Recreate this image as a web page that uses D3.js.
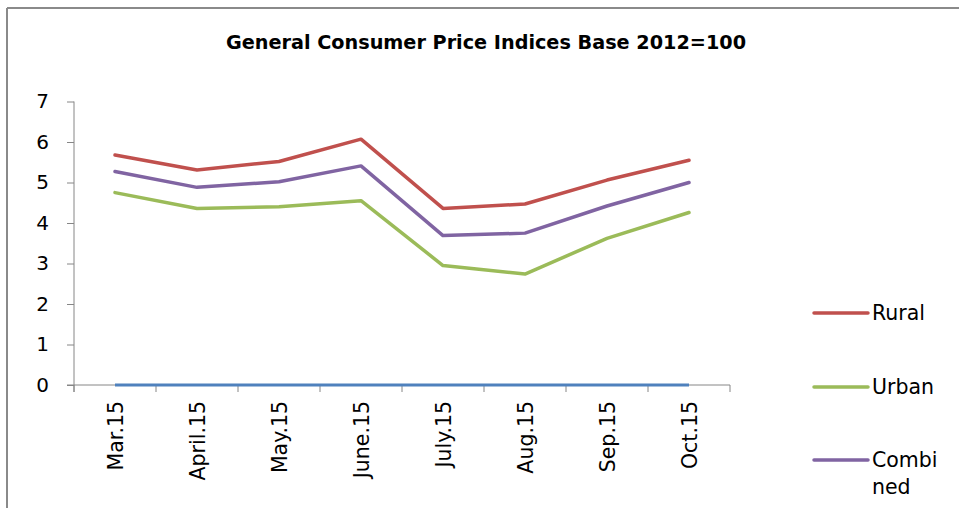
<!DOCTYPE html>
<html>
<head>
<meta charset="utf-8">
<script src="https://cdn.jsdelivr.net/npm/d3@7"></script>
<style>
html,body{margin:0;padding:0;background:#fff;}
svg{display:block;}
text{font-family:"DejaVu Sans","Open Sans",sans-serif;fill:#000;}
</style>
</head>
<body>
<svg id="chart" width="959" height="508"></svg>
<script>
const categories = ["Mar.15","April.15","May.15","June.15","July.15","Aug.15","Sep.15","Oct.15"];
const rural    = [5.68, 5.31, 5.52, 6.07, 4.36, 4.47, 5.06, 5.55];
const urban    = [4.75, 4.36, 4.40, 4.55, 2.95, 2.74, 3.62, 4.26];
const combined = [5.27, 4.88, 5.02, 5.41, 3.69, 3.75, 4.42, 5.00];
const blank    = [0, 0, 0, 0, 0, 0, 0, 0];
const yTicks = [0,1,2,3,4,5,6,7];
const seriesNames = ["Rural","Urban","Combined"];
const title = "General Consumer Price Indices Base 2012=100";

const colors = {Rural:"#c0504d", Urban:"#9bbb59", Combined:"#8064a2", blank:"#4f81bd"};

const svg = d3.select("#chart");

// frame
svg.append("line").attr("x1",7).attr("x2",959).attr("y1",8).attr("y2",8).attr("stroke","#8a8a8a").attr("stroke-width",2);
svg.append("line").attr("x1",7).attr("x2",7).attr("y1",8).attr("y2",508).attr("stroke","#8a8a8a").attr("stroke-width",2);

// title
svg.append("text").attr("x",486).attr("y",49).attr("text-anchor","middle")
  .attr("font-family","Lato,sans-serif")
  .attr("font-size",19).attr("font-weight","bold").attr("textLength",520).attr("lengthAdjust","spacingAndGlyphs")
  .text(title);

const x = d3.scaleBand().domain(categories).range([74,730]);
const y = d3.scaleLinear().domain([0,7]).range([385,101.5]);

// y axis
const yAxis = svg.append("g").attr("transform","translate(74,0)")
  .call(d3.axisLeft(y).tickValues(yTicks).tickSize(7).tickPadding(18).tickFormat(d3.format("d")));
yAxis.select(".domain").attr("stroke","#868686").attr("d","M0,101.5V392");
yAxis.selectAll(".tick line").attr("stroke","#868686");
yAxis.selectAll(".tick text").attr("font-size",20).attr("font-family","DejaVu Sans,sans-serif").attr("fill","#000");

// x axis
const xAxis = svg.append("g").attr("transform","translate(0,385)")
  .call(d3.axisBottom(x).tickSize(0).tickSizeOuter(0));
xAxis.select(".domain").attr("stroke","#868686").attr("d","M67,0H730");
xAxis.selectAll(".tick line").remove();
xAxis.selectAll(".tick text")
  .attr("font-size",20.5).attr("font-family","DejaVu Sans,sans-serif").attr("fill","#000")
  .attr("text-anchor","end").attr("dy","0.35em")
  .attr("transform","translate(1,16) rotate(-90)").attr("x",0).attr("y",0);
// category boundary ticks
const bounds = categories.map(c => x(c)).concat([x.range()[1]]);
svg.append("g").selectAll("line").data(bounds).join("line")
  .attr("x1",d=>d).attr("x2",d=>d).attr("y1",385).attr("y2",392)
  .attr("stroke","#868686");

const line = d3.line().x((d,i)=>x(categories[i])+x.bandwidth()/2).y(d=>y(d));

svg.append("path").datum(blank).attr("d",line).attr("fill","none")
  .attr("stroke",colors.blank).attr("stroke-width",3);

const data = {Rural:rural, Urban:urban, Combined:combined};
["Urban","Combined","Rural"].forEach(k=>{
  svg.append("path").datum(data[k]).attr("d",line).attr("fill","none")
    .attr("stroke",colors[k]).attr("stroke-width",3.5)
    .attr("stroke-linejoin","round").attr("stroke-linecap","round");
});

// legend
const legendY = [313, 387, 460];
const lg = svg.append("g");
seriesNames.forEach((n,i)=>{
  lg.append("line").attr("x1",814).attr("x2",868).attr("y1",legendY[i]).attr("y2",legendY[i])
    .attr("stroke",colors[n]).attr("stroke-width",3.5).attr("stroke-linecap","round");
  const t = lg.append("text").attr("x",872).attr("y",legendY[i]).attr("dy","0.35em").attr("font-size",20.5);
  if (n==="Combined") {
    t.append("tspan").attr("x",872).text("Combi");
    t.append("tspan").attr("x",872).attr("dy",27).text("ned");
  } else {
    t.text(n);
  }
});
</script>
</body>
</html>
